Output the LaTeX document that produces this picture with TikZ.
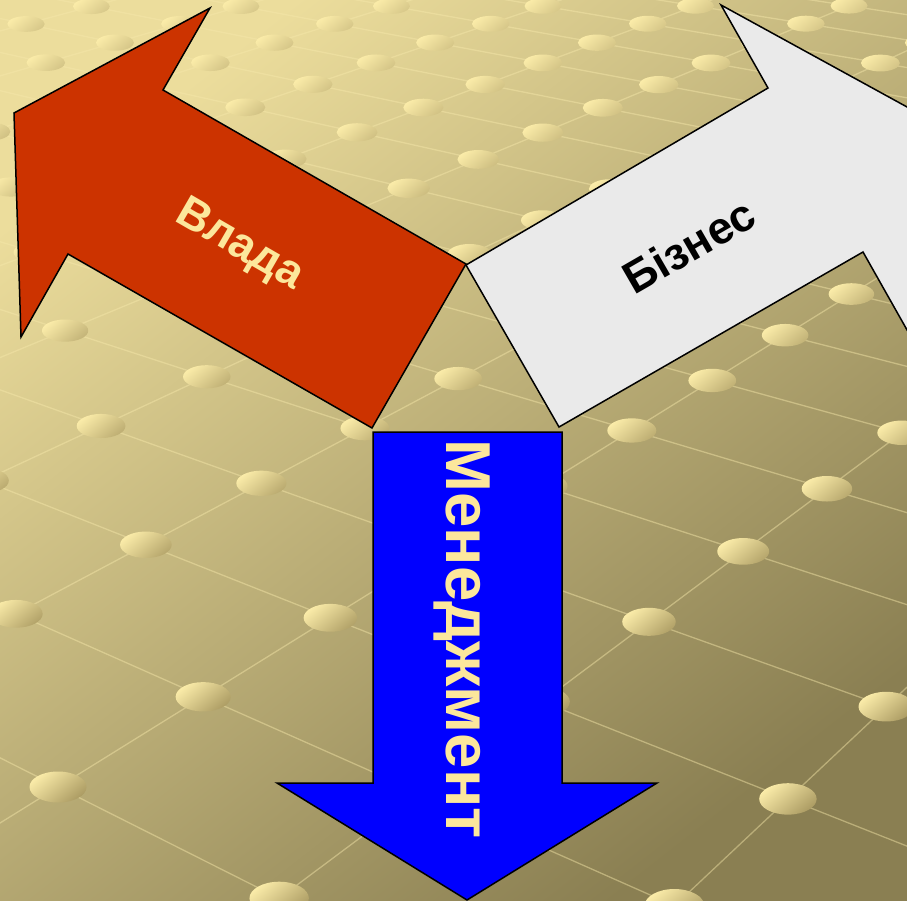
\documentclass[tikz,border=0pt]{standalone}
\usepackage{fontspec}
\setmainfont{Liberation Sans}
\definecolor{bgTL}{HTML}{ECDD9C}
\definecolor{bgBR}{HTML}{8A7F52}
\definecolor{dotL}{HTML}{FAEBA8}
\definecolor{dotD}{HTML}{A89860}
\definecolor{gridc}{HTML}{F6E8AA}
\definecolor{redA}{HTML}{CC3300}
\definecolor{grayA}{HTML}{EAEAEA}
\definecolor{blueA}{HTML}{0000FF}
\definecolor{txtY}{HTML}{FCE79C}
\newcommand\gridpt[3]{%
  \pgfmathsetmacro\gd{1+0.07099*(#1)+0.07891*(#2)}%
  \pgfmathsetmacro\gx{(159.61*(#1)-199.15*(#2)+58)/\gd}%
  \pgfmathsetmacro\gy{(-40.75*(#1)-40.42*(#2)+787)/\gd}%
  \coordinate (#3) at (\gx,-\gy);%
}
\tikzset{
  gridline/.style={draw=gridc, opacity=0.45, line width=1.3pt},
  arrowshape/.style={draw=black, line width=1.5pt, line join=miter},
  lbl/.style={inner sep=0pt, font=\bfseries\fontsize{#1}{#1}\selectfont},
}
\begin{document}
\begin{tikzpicture}[x=1pt,y=1pt]
\useasboundingbox (0,0) rectangle (907,-901);
\clip (0,0) rectangle (907,-901);
\shade[top color=bgTL, bottom color=bgBR, shading angle=38] (0,0) rectangle (907,-901);
% perspective grid lines
\foreach \v in {-4,...,12}{
  \gridpt{-3}{\v}{ga}\gridpt{20}{\v}{gb}
  \draw[gridline] (ga) -- (gb);
}
\foreach \u in {-3,...,20}{
  \gridpt{\u}{-4}{ga}\gridpt{\u}{12}{gb}
  \draw[gridline] (ga) -- (gb);
}
% dots
\foreach \u in {-2,...,18}{
  \foreach \v in {-3,...,11}{
    \gridpt{\u}{\v}{gp}
    \pgfmathsetmacro\rx{28.5*exp(-0.5*ln(\gd))}
    \pgfmathsetmacro\ry{15.5*exp(-0.8*ln(\gd))}
    \pgfmathsetmacro\mx{min(95,100/\gd)}
    \pgfmathparse{(\gx>-40)&&(\gx<950)&&(\gy>-30)&&(\gy<940)?1:0}
    \ifnum\pgfmathresult=1
      \shade[top color=dotL, bottom color=dotD!\mx!dotL, shading angle=40]
        (gp) ellipse [x radius=\rx pt, y radius=\ry pt];
    \fi
  }
}
% arrows
\fill[redA, arrowshape] (210,-8) -- (163,-90) -- (466,-264) -- (372,-428)
  -- (68,-254) -- (21,-337) -- (14,-113) -- cycle;
\fill[grayA, arrowshape] (721,-5) -- (768,-88) -- (466,-265) -- (559,-427)
  -- (863,-252) -- (911,-337) -- (918,-113) -- cycle;
\fill[blueA, arrowshape] (373,-432) -- (562,-432) -- (562,-783) -- (657,-783)
  -- (467,-900) -- (277,-783) -- (373,-783) -- cycle;
% labels
\node[lbl=45, text=txtY, rotate=-30] (vlada) at (239,-246) {Влада};
\node[lbl=45, text=black, rotate=30] (biznes) at (689,-246) {Бізнес};
\node[lbl=63.5, text=txtY, rotate=-90] (menedzh) at (462,-639) {Менеджмент};
\end{tikzpicture}
\end{document}
